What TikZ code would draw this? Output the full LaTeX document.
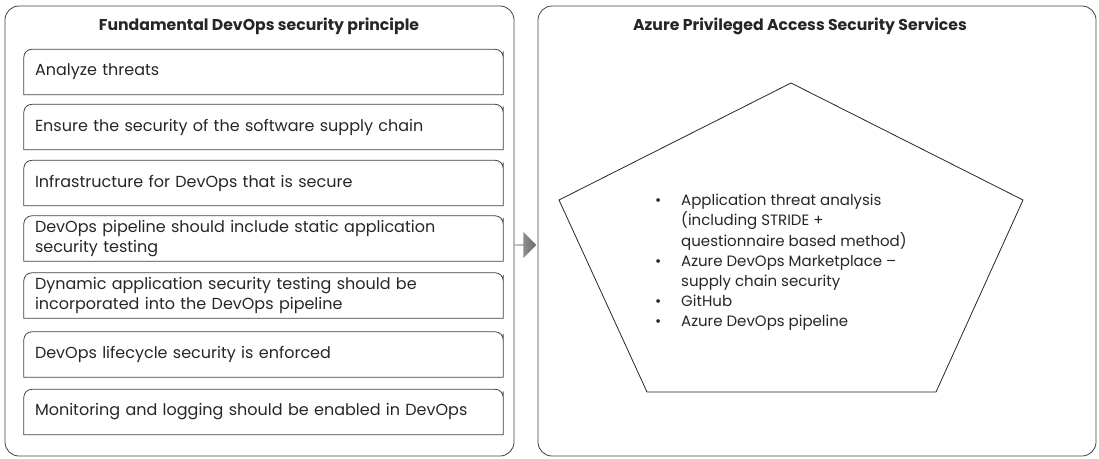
\documentclass[tikz,border=0pt]{standalone}
\usepackage{fontspec}
\setmainfont{Poppins}
\usetikzlibrary{positioning,shapes.arrows}

\tikzset{
	panel/.style={draw=black!75, line width=0.8pt, rounded corners=14pt},
	itembox/.style={inner xsep=11pt, inner ysep=3pt, minimum width=479pt, minimum height=45pt,
		text width=457pt, align=left, font=\fontsize{16}{19.5}\selectfont, text=black!85},
	headline/.style={font=\fontsize{15.7}{18}\selectfont\bfseries, text=black!85},
	topround/.style={draw=black!75, line width=0.8pt}
}

\begin{document}
\begin{tikzpicture}[x=1pt,y=-1pt]
	%%%%% FRAME %%%%%
	\useasboundingbox (0,0) rectangle (1099,458);
	
	\draw[panel] (5,6) rectangle (514,456);
	\draw[panel] (538,6) rectangle (1096,456);
	
	\node[headline] (lefthead) at (259,26) {Fundamental DevOps security principle};
	\node[headline] (righthead) at (800,26) {Azure Privileged Access Security Services};
	
	%%%%% PRINCIPLES %%%%%
	\node[itembox] (p1) at (263.5,72) {Analyze threats};
	\node[itembox] (p2) at (263.5,127) {Ensure the security of the software supply chain};
	\node[itembox] (p3) at (263.5,183) {Infrastructure for DevOps that is secure};
	\node[itembox] (p4) at (263.5,238.5) {DevOps pipeline should include static application\\security testing};
	\node[itembox] (p5) at (263.5,295.5) {Dynamic application security testing should be\\incorporated into the DevOps pipeline};
	\node[itembox] (p6) at (263.5,354.5) {DevOps lifecycle security is enforced};
	\node[itembox] (p7) at (263.5,412) {Monitoring and logging should be enabled in DevOps};
	
	\foreach \n in {p1,p2,p3,p4,p5,p6,p7}
		\draw[topround] (\n.south west) [rounded corners=8pt] -- (\n.north west) -- (\n.north east) -- ([yshift=-10pt]\n.north east) [sharp corners] -- (\n.south east) -- cycle;
	
	%%%%% ARROW %%%%%
	\node[single arrow, draw=none, left color=black!35, right color=black!58,
		minimum height=22pt, minimum width=26pt, single arrow head extend=4.5pt,
		inner sep=0pt] (link) at (525,245) {};
	
	%%%%% SERVICES %%%%%
	\coordinate (top) at (791,83);
	\coordinate (west) at (559,200);
	\coordinate (east) at (1023,200);
	\coordinate (sw) at (647,392);
	\coordinate (se) at (936,392);
	\draw[line width=0.8pt, black!85] (top) -- (east) -- (se) -- (sw) -- (west) -- cycle;
	
	\node[anchor=north west, inner sep=0pt, align=left, text=black!85,
		font=\fontsize{15}{20.2}\selectfont] (services) at (655,194) {%
		\makebox[26pt][l]{\textbullet}Application threat analysis\\
		\hspace*{26pt}(including STRIDE +\\
		\hspace*{26pt}questionnaire based method)\\
		\makebox[26pt][l]{\textbullet}Azure DevOps Marketplace --\\
		\hspace*{26pt}supply chain security\\
		\makebox[26pt][l]{\textbullet}GitHub\\
		\makebox[26pt][l]{\textbullet}Azure DevOps pipeline};
	
	%%%%% END %%%%%
\end{tikzpicture}
\end{document}
